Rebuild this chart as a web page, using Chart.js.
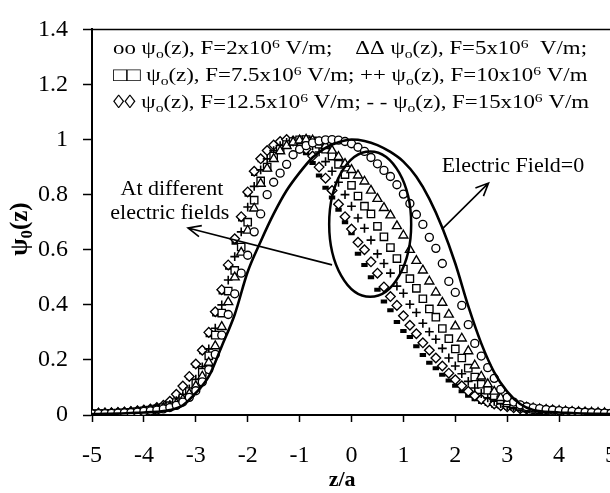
<!DOCTYPE html>
<html>
<head>
<meta charset="utf-8">
<script src="https://cdn.jsdelivr.net/npm/chart.js"></script>
<style>
  html, body { margin: 0; padding: 0; background: #fff; overflow: hidden; }
  #wrap { width: 640px; height: 493px; }
</style>
</head>
<body>
<div id="wrap"><canvas id="chart" width="640" height="493"></canvas></div>
<script>
// z/a grid shared by all marker series
const zGrid = [
  -5, -4.875, -4.75, -4.625, -4.5, -4.375, -4.25, -4.125, -4,
  -3.875, -3.75, -3.625, -3.5, -3.375, -3.25, -3.125, -3, -2.875,
  -2.75, -2.625, -2.5, -2.375, -2.25, -2.125, -2, -1.875, -1.75,
  -1.625, -1.5, -1.375, -1.25, -1.125, -1, -0.875, -0.75, -0.625,
  -0.5, -0.375, -0.25, -0.125, 0, 0.125, 0.25, 0.375, 0.5,
  0.625, 0.75, 0.875, 1, 1.125, 1.25, 1.375, 1.5, 1.625,
  1.75, 1.875, 2, 2.125, 2.25, 2.375, 2.5, 2.625, 2.75,
  2.875, 3, 3.125, 3.25, 3.375, 3.5, 3.625, 3.75, 3.875,
  4, 4.125, 4.25, 4.375, 4.5, 4.625, 4.75, 4.875, 5
];

// F = 2x10^6 V/m (circles)
const psiF2 = [
  .004, .005, .005, .006, .007, .008, .009, .011, .013,
  .015, .018, .022, .027, .035, .047, .064, .088, .12,
  .165, .22, .29, .365, .44, .515, .58, .665, .73,
  .8, .845, .878, .91, .945, .965, .978, .988, .995,
  .999, 1.0, .998, .993, .985, .972, .957, .935, .912,
  .888, .866, .836, .802, .768, .728, .692, .645, .605,
  .55, .485, .445, .398, .328, .26, .214, .172, .133,
  .093, .064, .047, .037, .03, .026, .023, .02, .018,
  .016, .014, .013, .011, .01, .009, .008, .007, .006
];
// F = 5x10^6 V/m (triangles)
const psiF5 = [
  .004, .005, .005, .006, .007, .008, .01, .012, .014,
  .017, .02, .025, .031, .041, .056, .077, .105, .14,
  .19, .25, .32, .41, .5, .59, .67, .75, .84,
  .895, .93, .958, .977, .99, .997, 1.0, .997, .99,
  .977, .96, .937, .912, .89, .87, .848, .815, .785,
  .752, .725, .686, .652, .6, .56, .525, .485, .445,
  .408, .365, .322, .278, .232, .18, .14, .112, .085,
  .062, .047, .037, .031, .027, .024, .021, .019, .017,
  .015, .013, .012, .011, .01, .009, .008, .007, .006
];
// F = 7.5x10^6 V/m (squares)
const psiF7_5 = [
  .004, .005, .005, .006, .007, .008, .01, .012, .015,
  .018, .022, .027, .034, .045, .062, .085, .115, .155,
  .215, .29, .37, .45, .525, .61, .7, .78, .85,
  .9, .94, .965, .982, .993, .999, 1.0, .995, .983,
  .965, .94, .91, .873, .834, .795, .758, .73, .685,
  .647, .608, .568, .53, .495, .46, .422, .385, .355,
  .314, .277, .24, .207, .17, .138, .112, .09, .07,
  .055, .044, .036, .03, .025, .021, .018, .016, .014,
  .012, .011, .01, .009, .008, .007, .006, .006, .005
];
// F = 10x10^6 V/m (plus)
const psiF10 = [
  .004, .005, .006, .007, .008, .009, .011, .013, .016,
  .019, .024, .03, .038, .052, .07, .095, .13, .175,
  .24, .315, .4, .49, .575, .665, .755, .83, .89,
  .93, .96, .978, .99, .998, 1.0, .993, .978, .955,
  .92, .885, .845, .8, .758, .715, .678, .635, .585,
  .55, .515, .468, .442, .402, .372, .333, .302, .275,
  .242, .207, .178, .15, .122, .098, .078, .062, .05,
  .041, .034, .029, .025, .022, .019, .017, .015, .013,
  .012, .011, .01, .009, .008, .007, .006, .005, .005
];
// F = 12.5x10^6 V/m (diamonds)
const psiF12_5 = [
  .005, .006, .007, .008, .009, .011, .013, .015, .018,
  .022, .027, .035, .05, .075, .105, .14, .185, .235,
  .3, .375, .455, .545, .64, .72, .81, .885, .93,
  .96, .98, .993, 1.0, .995, .985, .965, .94, .9,
  .86, .815, .765, .72, .675, .627, .6, .556, .515,
  .465, .43, .398, .36, .326, .295, .262, .235, .207,
  .178, .152, .128, .106, .086, .07, .057, .047, .04,
  .034, .03, .026, .023, .021, .019, .017, .015, .014,
  .012, .011, .01, .009, .008, .007, .006, .005, .005
];
// F = 15x10^6 V/m (dashes)
const psiF15 = [
  .005, .006, .007, .008, .009, .011, .013, .015, .018,
  .022, .027, .035, .048, .07, .1, .135, .178, .228,
  .29, .365, .445, .535, .625, .71, .8, .875, .925,
  .958, .98, .993, .998, .99, .975, .95, .915, .87,
  .825, .79, .745, .7, .66, .585, .545, .5, .455,
  .412, .38, .338, .305, .283, .25, .218, .19, .17,
  .146, .125, .106, .086, .07, .057, .047, .04, .034,
  .029, .025, .022, .02, .018, .016, .015, .013, .012,
  .011, .01, .009, .008, .007, .007, .006, .005, .005
];

// F = 0 (solid line)
const zLine = [-5, -4.75, -4.5, -4.25, -4, -3.75, -3.5, -3.25, -3, -2.75, -2.5, -2.25, -2, -1.75, -1.5, -1.25, -1, -0.75, -0.5, -0.25,
  0, 0.25, 0.5, 0.75, 1, 1.25, 1.5, 1.75, 2, 2.25, 2.5, 2.75, 3, 3.25, 3.5, 3.75, 4, 4.25, 4.5, 4.75, 5];
const psiF0 = [.003, .004, .005, .007, .009, .012, .018, .035, .08, .14, .25, .365, .52, .63, .73, .815, .88, .935, .97, .99,
  1.0, .995, .98, .955, .92, .865, .785, .68, .55, .395, .26, .155, .085, .04, .018, .012, .009, .007, .005, .004, .003];

const xTickLabels = ['-5', '-4', '-3', '-2', '-1', '0', '1', '2', '3', '4', '5'];
const yTickLabels = ['0', '0.2', '0.4', '0.6', '0.8', '1', '1.2', '1.4'];

const legendLines = [
  [['oo ψ'], ['o', 'sub'], ['(z), F=2x10'], ['6', 'sup'], [' V/m;    ΔΔ ψ'], ['o', 'sub'], ['(z), F=5x10'], ['6', 'sup'], ['  V/m;']],
  [['□□ ψ'], ['o', 'sub'], ['(z), F=7.5x10'], ['6', 'sup'], [' V/m; ++ ψ'], ['o', 'sub'], ['(z), F=10x10'], ['6', 'sup'], [' V/m']],
  [['◊◊ ψ'], ['o', 'sub'], ['(z), F=12.5x10'], ['6', 'sup'], [' V/m; - - ψ'], ['o', 'sub'], ['(z), F=15x10'], ['6', 'sup'], [' V/m']]
];

[psiF2, psiF5, psiF7_5, psiF10, psiF12_5, psiF15].forEach((s, i) => {
  if (s.length !== zGrid.length) throw new Error('series ' + i + ' has ' + s.length + ' values');
});
if (psiF0.length !== zLine.length) throw new Error('F0 length ' + psiF0.length);

const FONT = "'Liberation Serif', 'Times New Roman', serif";

function toPoints(xs, ys) {
    return xs.map((x, i) => ({ x: x, y: ys[i] }));
}

// text with sub / superscripts, returns width
function richText(ctx, parts, x, y, size, bold, align, measureOnly) {
    const fontFor = m => (bold ? 'bold ' : '') + (m ? Math.round(size * 0.68) : size) + 'px ' + FONT;
    let w = 0;
    parts.forEach(p => { ctx.font = fontFor(p[1]); w += ctx.measureText(p[0]).width; });
    if (measureOnly) return w;
    let cx = align === 'center' ? x - w / 2 : x;
    parts.forEach(p => {
        ctx.font = fontFor(p[1]);
        const dy = p[1] === 'sub' ? size * 0.2 : (p[1] === 'sup' ? -size * 0.36 : 0);
        ctx.fillText(p[0], cx, y + dy);
        cx += ctx.measureText(p[0]).width;
    });
    return w;
}

function arrow(ctx, x1, y1, x2, y2) {
    const ang = Math.atan2(y2 - y1, x2 - x1), L = 14, w = 0.42;
    ctx.beginPath();
    ctx.moveTo(x1, y1);
    ctx.lineTo(x2, y2);
    ctx.moveTo(x2 - L * Math.cos(ang - w), y2 - L * Math.sin(ang - w));
    ctx.lineTo(x2, y2);
    ctx.lineTo(x2 - L * Math.cos(ang + w), y2 - L * Math.sin(ang + w));
    ctx.stroke();
}

const overlay = {
    id: 'overlay',
    afterDraw(chart) {
        const { ctx, chartArea: a } = chart;
        const xs = chart.scales.x, ys = chart.scales.y;
        const px = v => xs.getPixelForValue(v), py = v => ys.getPixelForValue(v);
        ctx.save();
        ctx.fillStyle = '#000';
        ctx.strokeStyle = '#000';

        // frame top / right
        ctx.lineWidth = 1.5;
        ctx.beginPath();
        ctx.moveTo(a.left, a.top);
        ctx.lineTo(a.right, a.top);
        ctx.lineTo(a.right, a.bottom);
        ctx.stroke();

        // legend text block, stretched to the width of the original box
        ctx.textBaseline = 'alphabetic';
        const lw = richText(ctx, legendLines[0], 0, 0, 19, false, 'left', true);
        const sx = 474 / lw;
        legendLines.forEach((ln, i) => {
            ctx.save();
            ctx.translate(a.left + 21, a.top + 25 + i * 27);
            ctx.scale(sx, 1);
            richText(ctx, ln, 0, 0, 19, false, 'left');
            ctx.restore();
        });

        // ellipse around shifted curves
        ctx.lineWidth = 2.5;
        ctx.beginPath();
        ctx.ellipse(px(0.36), py(0.693), px(0.79) - px(0), py(0) - py(0.264), 0, 0, Math.PI * 2);
        ctx.stroke();

        // arrows
        ctx.lineWidth = 1.6;
        arrow(ctx, px(-0.375), py(0.545), px(-3.15), py(0.679));
        arrow(ctx, px(1.74), py(0.674), px(2.64), py(0.842));

        // annotation text
        ctx.textAlign = 'center';
        ctx.textBaseline = 'middle';
        ctx.font = '22px ' + FONT;
        ctx.fillText('At different', px(-3.46), py(0.82));
        ctx.fillText('electric fields', px(-3.5), py(0.733));
        ctx.fillText('Electric Field=0', px(3.11), py(0.904));

        // axis titles
        ctx.font = 'bold 22px ' + FONT;
        ctx.textBaseline = 'alphabetic';
        ctx.fillText('z/a', px(-0.18), 486);
        ctx.translate(27, py(0.675));
        ctx.rotate(-Math.PI / 2);
        ctx.textAlign = 'left';
        richText(ctx, [['ψ'], ['0', 'sub'], ['(z)']], 0, 0, 25, true, 'center');
        ctx.restore();
    }
};

const marker = (label, data, style, radius, extra) => Object.assign({
    label: label,
    data: toPoints(zGrid, data),
    pointStyle: style,
    pointRadius: radius,
    pointBorderWidth: 1.35,
    pointBorderColor: '#000',
    pointBackgroundColor: '#fff',
    showLine: false
}, extra || {});

const ctx = document.getElementById('chart').getContext('2d');
new Chart(ctx, {
    type: 'scatter',
    data: {
        datasets: [
            {
                label: 'F=0',
                data: toPoints(zLine, psiF0),
                showLine: true,
                borderColor: '#000',
                borderWidth: 2.6,
                pointRadius: 0,
                cubicInterpolationMode: 'monotone'
            },
            marker('F=2', psiF2, 'circle', 4),
            marker('F=5', psiF5, 'triangle', 5.2),
            marker('F=7.5', psiF7_5, 'rect', 5.2),
            marker('F=10', psiF10, 'cross', 4.4, { pointBorderWidth: 1.6 }),
            marker('F=12.5', psiF12_5, 'rectRot', 4.8),
            marker('F=15', psiF15, 'line', 3.2, { pointBorderWidth: 4 })
        ]
    },
    options: {
        responsive: false,
        animation: false,
        layout: { padding: { top: 17, right: 29, left: 0, bottom: 0 } },
        plugins: { legend: { display: false }, tooltip: { enabled: false } },
        scales: {
            x: {
                type: 'linear', min: -5, max: 5,
                afterFit: s => { s.height = 78; },
                ticks: {
                    stepSize: 1, color: '#000', padding: 19,
                    font: { family: FONT, size: 24 },
                    callback: (v, i) => xTickLabels[i]
                },
                grid: { drawOnChartArea: false, tickLength: 7, tickColor: '#000', tickWidth: 1.5 },
                border: { color: '#000', width: 2 }
            },
            y: {
                min: 0, max: 1.4,
                afterFit: s => { s.width = 92; },
                ticks: {
                    stepSize: 0.2, color: '#000', padding: 15,
                    font: { family: FONT, size: 24 },
                    callback: (v, i) => yTickLabels[i]
                },
                grid: { drawOnChartArea: false, tickLength: 9, tickColor: '#000', tickWidth: 1.5 },
                border: { color: '#000', width: 2 }
            }
        }
    },
    plugins: [overlay]
});
</script>
</body>
</html>
